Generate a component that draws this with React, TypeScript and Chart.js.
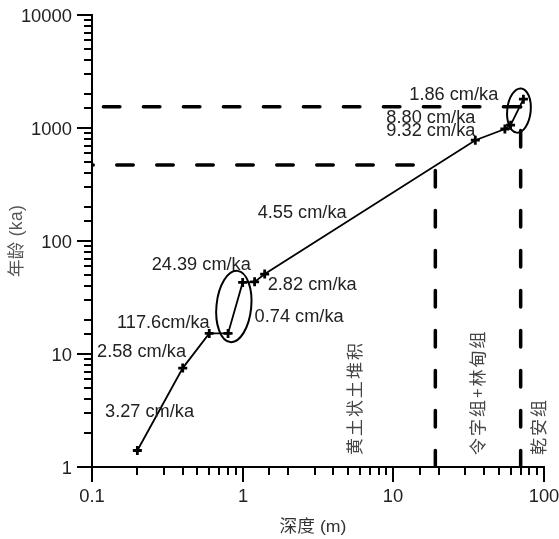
import React, { useEffect, useRef } from 'react';
import { Chart, registerables } from 'chart.js';

Chart.register(...registerables);

// ---- data ----
const depths = [0.2, 0.4, 0.6, 0.8, 1.0, 1.2, 1.4, 35, 55, 60, 73];
const ages = [1.4, 7.5, 15.2, 15.2, 43, 43.5, 51, 780, 980, 1060, 1800];

const upperRefX = [0.119, 75];
const upperRefY = [1543, 1543];
const lowerRefX = [0.1, 19];
const lowerRefY = [470, 470];
const boundary1X = [19, 19];
const boundary1Y = [1, 470];
const boundary2X = [70, 70];
const boundary2Y = [1, 1543];

const rateLabels = ['1.86 cm/ka', '8.80 cm/ka', '9.32 cm/ka', '4.55 cm/ka', '24.39 cm/ka', '2.82 cm/ka', '0.74 cm/ka', '117.6cm/ka', '2.58 cm/ka', '3.27 cm/ka'];
const rateLabelX = [12.76, 8.99, 8.99, 1.257, 0.249, 1.465, 1.2, 0.1465, 0.108, 0.122];
const rateLabelY = [1770, 1130, 867, 163, 55.4, 37.6, 19.2, 17.0, 9.6, 2.77];

const unitLabels = ['黄土状土堆积', '令字组+林甸组', '乾安组'];
const unitLabelX = [5.5, 36, 92.7];
const unitLabelY = [1.28, 1.28, 1.28];

const ellipseXMin = [0.67, 57];
const ellipseXMax = [1.14, 81.6];
const ellipseYMin = [12.7, 908];
const ellipseYMax = [54.6, 2245];

const xTitle = '深度 (m)';
const yTitle = '年龄 (ka)';

const LATIN = '"Liberation Sans", Arial, "Noto Sans CJK SC", sans-serif';
const CJK = '"Noto Sans CJK SC", "Liberation Sans", sans-serif';

const isDecade = (v: number) => Math.abs(Math.log10(v) - Math.round(Math.log10(v))) < 1e-6;
const fmt = (v: number) => {
  const e = Math.round(Math.log10(v));
  return e < 0 ? v.toFixed(-e) : String(Math.round(v));
};

type TOpts = {
  size: number;
  family?: string;
  color?: string;
  align?: CanvasTextAlign;
  baseline?: CanvasTextBaseline;
  rotation?: number;
  sx?: number;
  spacing?: number;
};

function drawText(ctx: CanvasRenderingContext2D, text: string, x: number, y: number, o: TOpts) {
  ctx.save();
  ctx.translate(x, y);
  if (o.rotation) ctx.rotate(o.rotation);
  ctx.scale(o.sx ?? 1, 1);
  ctx.font = `${o.size}px ${o.family ?? LATIN}`;
  ctx.fillStyle = o.color ?? '#222';
  ctx.textAlign = o.align ?? 'left';
  ctx.textBaseline = o.baseline ?? 'alphabetic';
  (ctx as any).letterSpacing = `${o.spacing ?? 0}px`;
  ctx.fillText(text, 0, 0);
  ctx.restore();
}

const decorPlugin = {
  id: 'decor',
  afterDraw(chart: any) {
    const ctx: CanvasRenderingContext2D = chart.ctx;
    const xs = chart.scales.x;
    const ys = chart.scales.y;
    const area = chart.chartArea;
    ctx.save();
    ctx.strokeStyle = '#000';
    ctx.lineWidth = 2;
    ctx.lineCap = 'butt';
    // y ticks
    for (const t of ys.ticks) {
      const py = Math.round(ys.getPixelForValue(t.value));
      const len = isDecade(t.value) ? 15 : 8;
      ctx.beginPath();
      ctx.moveTo(area.left, py);
      ctx.lineTo(area.left - len, py);
      ctx.stroke();
      if (isDecade(t.value)) {
        drawText(ctx, fmt(t.value), area.left - 20, py + 6.5, { size: 17.5, align: 'right', sx: 1.05 });
      }
    }
    // x ticks
    for (const t of xs.ticks) {
      const px = Math.round(xs.getPixelForValue(t.value));
      const len = isDecade(t.value) ? 15 : 8;
      ctx.beginPath();
      ctx.moveTo(px, area.bottom);
      ctx.lineTo(px, area.bottom + len);
      ctx.stroke();
      if (isDecade(t.value)) {
        drawText(ctx, fmt(t.value), px, area.bottom + 35, { size: 17.5, align: 'center', sx: 1.05 });
      }
    }
    // ellipses
    ctx.lineWidth = 2;
    for (let i = 0; i < ellipseXMin.length; i++) {
      const x1 = xs.getPixelForValue(ellipseXMin[i]);
      const x2 = xs.getPixelForValue(ellipseXMax[i]);
      const y1 = ys.getPixelForValue(ellipseYMin[i]);
      const y2 = ys.getPixelForValue(ellipseYMax[i]);
      ctx.beginPath();
      ctx.ellipse((x1 + x2) / 2, (y1 + y2) / 2, Math.abs(x2 - x1) / 2, Math.abs(y1 - y2) / 2, 0.1, 0, Math.PI * 2);
      ctx.stroke();
    }
    // rate labels
    for (let i = 0; i < rateLabels.length; i++) {
      drawText(ctx, rateLabels[i], xs.getPixelForValue(rateLabelX[i]), ys.getPixelForValue(rateLabelY[i]) + 0.5, {
        size: 17.5,
        sx: 1.04,
      });
    }
    // unit labels (vertical)
    for (let i = 0; i < unitLabels.length; i++) {
      drawText(ctx, unitLabels[i], xs.getPixelForValue(unitLabelX[i]), ys.getPixelForValue(unitLabelY[i]), {
        size: 17,
        family: CJK,
        color: '#444',
        rotation: -Math.PI / 2,
        baseline: 'middle',
        spacing: 2,
      });
    }
    // axis titles
    drawText(ctx, xTitle, (area.left + area.right) / 2 - 5, area.bottom + 60, {
      size: 17,
      color: '#333',
      align: 'center',
      baseline: 'middle',
      sx: 1.04,
    });
    drawText(ctx, yTitle, 17.5, (area.top + area.bottom) / 2, {
      size: 17.5,
      color: '#555',
      align: 'center',
      baseline: 'middle',
      rotation: -Math.PI / 2,
      spacing: 0.3,
    });
    ctx.restore();
  },
};

function pts(xv: number[], yv: number[]) {
  return xv.map((x, i) => ({ x, y: yv[i] }));
}

function dashed(xv: number[], yv: number[], offset: number) {
  return {
    data: pts(xv, yv),
    borderColor: '#000',
    borderWidth: 3.5,
    borderDash: [16.5, 23.5],
    borderDashOffset: offset,
    borderCapStyle: 'round' as const,
    pointRadius: 0,
    fill: false,
    tension: 0,
  };
}

export default function App() {
  const ref = useRef<HTMLCanvasElement>(null);
  useEffect(() => {
    if (!ref.current) return;
    const chart = new Chart(ref.current, {
      type: 'line',
      data: {
        datasets: [
          {
            data: pts(depths, ages),
            borderColor: '#000',
            borderWidth: 1.8,
            pointStyle: 'cross',
            pointRadius: 4.5,
            pointBorderWidth: 2.8,
            pointBorderColor: '#000',
            fill: false,
            tension: 0,
          },
          dashed(upperRefX, upperRefY, 0),
          dashed(lowerRefX, lowerRefY, 15.25),
          dashed(boundary1X, boundary1Y, 0),
          dashed(boundary2X, boundary2Y, 0),
        ] as any,
      },
      options: {
        responsive: false,
        animation: false,
        layout: { padding: { top: 15, right: 15, left: 0, bottom: 0 } },
        plugins: { legend: { display: false }, tooltip: { enabled: false } },
        scales: {
          x: {
            type: 'logarithmic',
            position: 'bottom',
            min: 0.1,
            max: 100,
            grid: { display: false },
            border: { display: true, color: '#000', width: 2 },
            ticks: { display: false, autoSkip: false },
            afterFit: (s: any) => {
              s.height = 72;
            },
          },
          y: {
            type: 'logarithmic',
            position: 'left',
            min: 1,
            max: 10000,
            grid: { display: false },
            border: { display: true, color: '#000', width: 2 },
            ticks: { display: false, autoSkip: false },
            afterFit: (s: any) => {
              s.width = 92;
            },
          },
        },
      } as any,
      plugins: [decorPlugin],
    });
    return () => chart.destroy();
  }, []);
  return (
    <canvas
      ref={ref}
      width={559}
      height={539}
      style={{ position: 'absolute', left: 0, top: 0, width: 559, height: 539 }}
    />
  );
}
